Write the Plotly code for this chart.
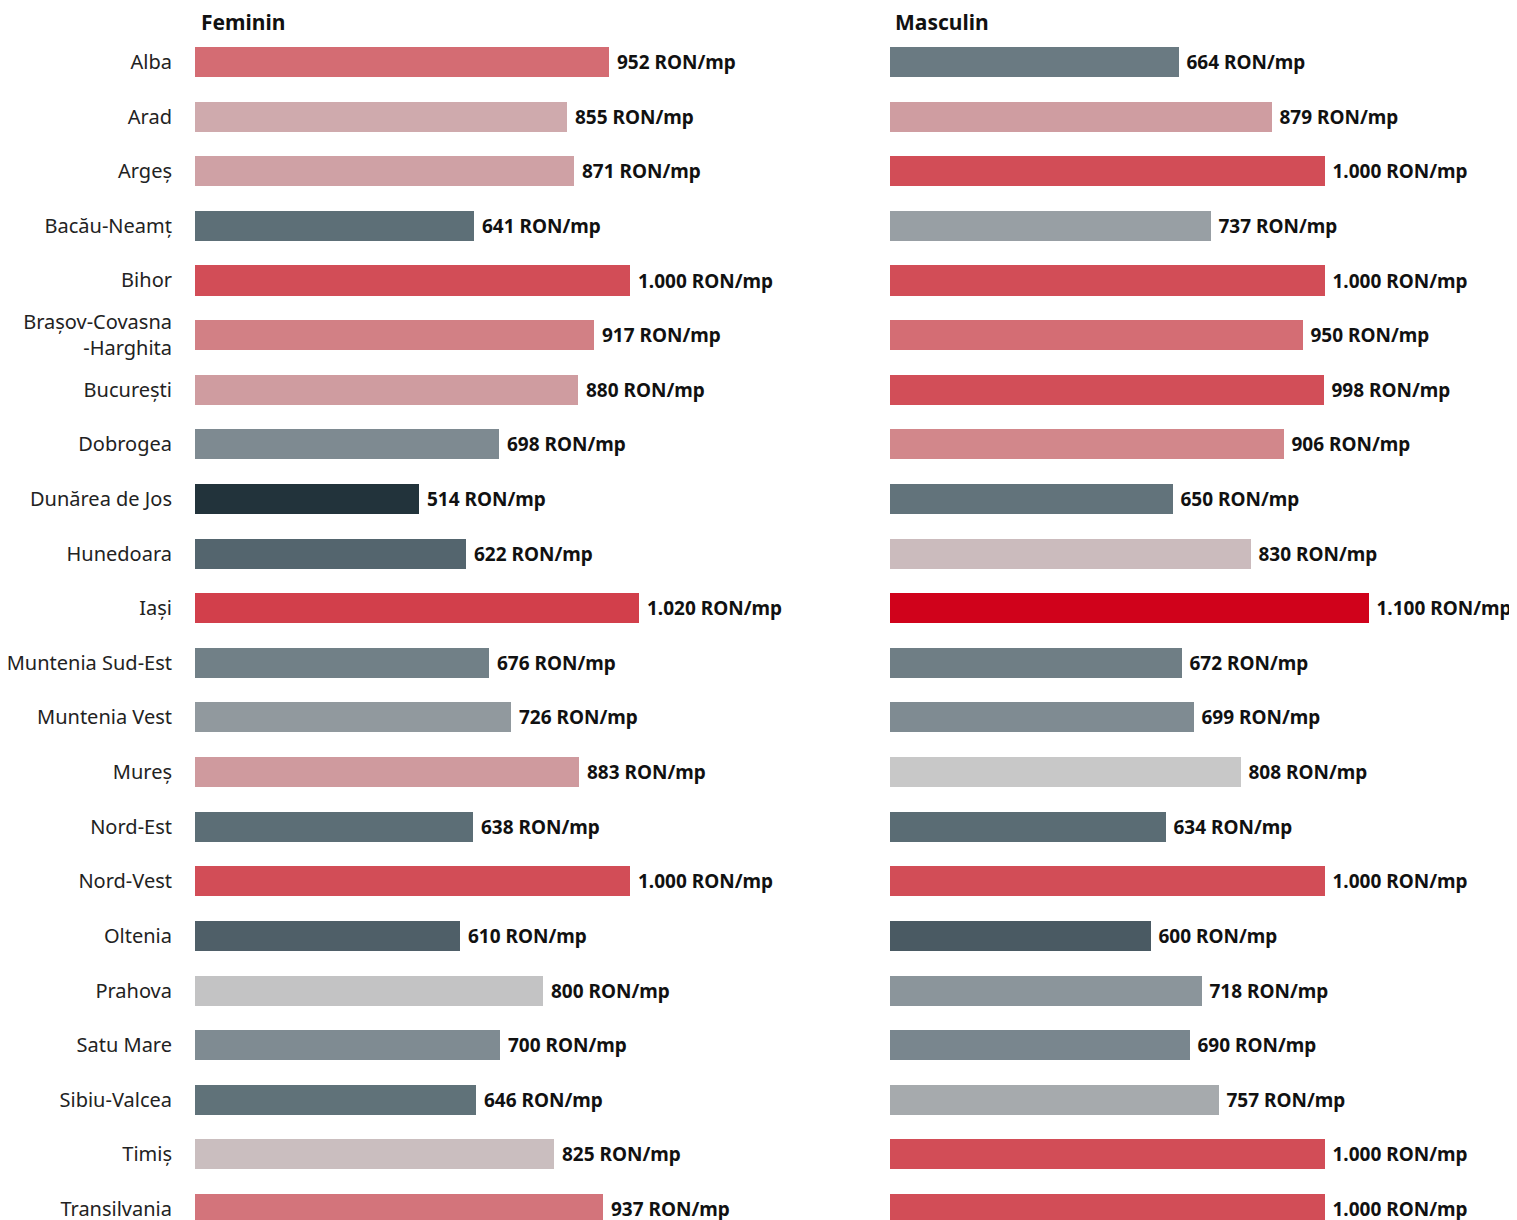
import plotly.graph_objects as go

# Regiuni si valori (RON/mp)
regions = ["Alba", "Arad", "Argeș", "Bacău-Neamț", "Bihor", "Brașov-Covasna<br>-Harghita",
           "București", "Dobrogea", "Dunărea de Jos", "Hunedoara", "Iași", "Muntenia Sud-Est",
           "Muntenia Vest", "Mureș", "Nord-Est", "Nord-Vest", "Oltenia", "Prahova",
           "Satu Mare", "Sibiu-Valcea", "Timiș", "Transilvania"]
feminin = [952, 855, 871, 641, 1000, 917, 880, 698, 514, 622, 1020, 676,
           726, 883, 638, 1000, 610, 800, 700, 646, 825, 937]
masculin = [664, 879, 1000, 737, 1000, 950, 998, 906, 650, 830, 1100, 672,
            699, 808, 634, 1000, 600, 718, 690, 757, 1000, 1000]

W, H = 1517, 1220
OFF = 8  # pagina are margine de 8px
vmin, vmax = 514, 1100

# culoare dupa valoare: ardezie inchis -> gri -> roz -> rosu
scale = [
    [0.0, "#22333b"],
    [0.147, "#4a5a63"],
    [0.216, "#5d6f77"],
    [0.317, "#7f8b92"],
    [0.415, "#a6aaad"],
    [0.502, "#c8c8c8"],
    [0.539, "#cbbbbd"],
    [0.582, "#cfaaad"],
    [0.625, "#cf9ca0"],
    [0.670, "#d2868b"],
    [0.744, "#d46d74"],
    [0.829, "#d24d57"],
    [0.863, "#d23f4b"],
    [1.0, "#d0021b"],
]


def fmt(v):
    return " " + f"{v:,}".replace(",", ".") + " RON/mp"


fig = go.Figure()
for vals, xa in [(feminin, "x"), (masculin, "x2")]:
    fig.add_trace(go.Bar(
        y=regions, x=vals, orientation="h", xaxis=xa, yaxis="y",
        width=0.55,
        marker=dict(color=vals, colorscale=scale, cmin=vmin, cmax=vmax, line=dict(width=0)),
        text=[fmt(v) for v in vals], textposition="outside", constraintext="none",
        cliponaxis=False,
        outsidetextfont=dict(family="Noto Sans", size=19, color="#111111", weight="bold"),
        hoverinfo="skip", showlegend=False,
    ))

xmax = 1440
px_per = 0.435
span = xmax * px_per / W
x0l = (195 - OFF) / W
x0r = (889.5 - OFF) / W

step = 54.62
c0 = 62 - OFF
top = (0 - c0) / step
bot = (H - c0) / step

fig.update_layout(
    width=W, height=H,
    margin=dict(l=0, r=0, t=0, b=0),
    paper_bgcolor="white", plot_bgcolor="white",
    bargap=0,
    xaxis=dict(domain=[x0l, x0l + span], range=[0, xmax], visible=False),
    xaxis2=dict(domain=[x0r, x0r + span], range=[0, xmax], visible=False),
    yaxis=dict(type="category", categoryorder="array", categoryarray=regions,
               range=[bot, top], showgrid=False, zeroline=False, showline=False,
               ticks="", ticklabelstandoff=22,
               tickfont=dict(family="Noto Sans", size=20, color="#222222")),
    font=dict(family="Noto Sans"),
)

for label, xp in [("Feminin", 199), ("Masculin", 893)]:
    fig.add_annotation(text="<b>" + label + "</b>", xref="paper", yref="paper",
                       x=(xp - OFF) / W, y=1 - (22 - OFF) / H, xanchor="left", yanchor="middle",
                       showarrow=False, font=dict(family="Noto Sans", size=21, color="#111111"))

fig.write_html("out.html")
